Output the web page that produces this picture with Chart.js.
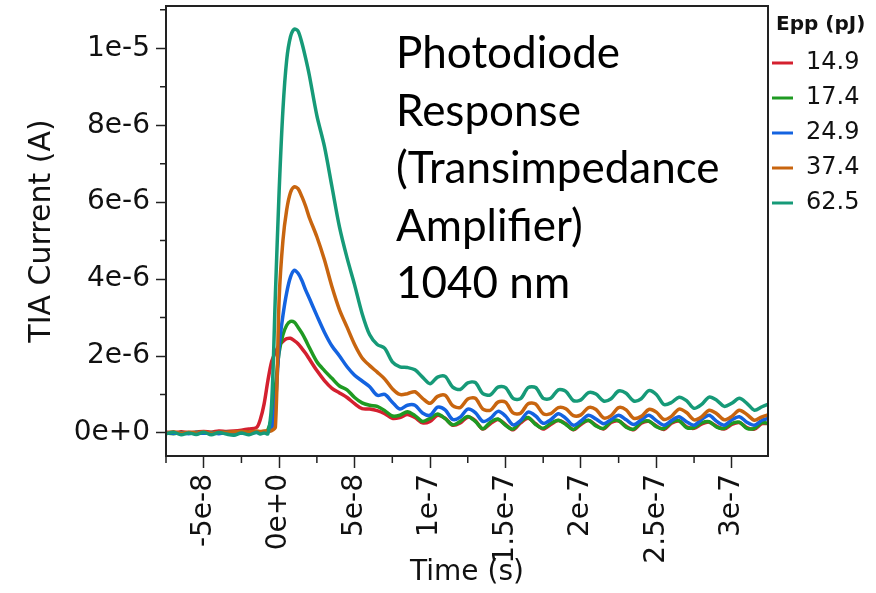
<!DOCTYPE html>
<html lang="en">
<head>
  <meta charset="UTF-8">
  <title>Photodiode Response</title>
  <style>
    html, body { margin: 0; padding: 0; background: #fff; }
    #wrap { width: 876px; height: 593px; }
  </style>
</head>
<body>
  <div id="wrap"><canvas id="graphic" width="876" height="593"></canvas></div>

  <script src="https://cdn.jsdelivr.net/npm/chart.js"></script>
  <script>
    // time in ns, TIA current in uA (labels below give the SI values)
    const timeNs = [
      -75, -70, -65, -60, -55, -50, -45, -40, -35, -30, -25, -20, -15,
      -12.5, -10, -7.5, -5, -2.5, 0, 2.5, 5, 7.5, 10, 12.5, 15, 17.5, 20,
      25, 30, 35, 40, 45, 50, 55, 60, 65, 70, 75, 80, 85, 90, 95, 100,
      105, 110, 115, 120, 125, 130, 135, 140, 145, 150, 155, 160, 165, 170, 175, 180,
      185, 190, 195, 200, 205, 210, 215, 220, 225, 230, 235, 240, 245, 250, 255, 260,
      265, 270, 275, 280, 285, 290, 295, 300, 305, 310, 315, 320, 325
    ];

    const epp14_9 = [
      0.02, 0.00, 0.03, 0.01, 0.02, 0.04, 0.02, 0.05, 0.04, 0.05, 0.07, 0.10, 0.14,
      0.35, 0.75, 1.35, 1.85, 2.10, 2.28, 2.38, 2.45, 2.46, 2.40, 2.32, 2.20, 2.07, 1.92,
      1.62, 1.36, 1.16, 1.04, 0.92, 0.76, 0.63, 0.62, 0.58, 0.50, 0.38, 0.40, 0.48, 0.40, 0.26, 0.30,
      0.46, 0.38, 0.20, 0.26, 0.41, 0.32, 0.10, 0.24, 0.35, 0.22, 0.08, 0.26, 0.38, 0.24, 0.10, 0.22,
      0.32, 0.24, 0.08, 0.22, 0.32, 0.20, 0.10, 0.27, 0.31, 0.17, 0.08, 0.25, 0.30, 0.18, 0.09, 0.25,
      0.31, 0.16, 0.12, 0.23, 0.28, 0.17, 0.10, 0.22, 0.27, 0.14, 0.10, 0.24, 0.24
    ];
    const epp17_4 = [
      0.00, -0.02, 0.01, -0.01, 0.02, -0.01, 0.01, 0.00, 0.02, 0.00, 0.01, 0.02, 0.02,
      0.02, 0.03, 0.08, 0.40, 1.20, 2.10, 2.55, 2.80, 2.90, 2.88, 2.75, 2.60, 2.42, 2.22,
      1.85, 1.62, 1.42, 1.22, 1.12, 0.92, 0.78, 0.72, 0.69, 0.58, 0.44, 0.46, 0.55, 0.45, 0.30, 0.38,
      0.49, 0.37, 0.21, 0.30, 0.43, 0.30, 0.11, 0.28, 0.36, 0.20, 0.10, 0.30, 0.40, 0.22, 0.12, 0.25,
      0.33, 0.22, 0.09, 0.25, 0.33, 0.18, 0.12, 0.30, 0.32, 0.15, 0.10, 0.28, 0.31, 0.16, 0.11, 0.28,
      0.32, 0.14, 0.14, 0.26, 0.29, 0.15, 0.12, 0.25, 0.28, 0.12, 0.12, 0.27, 0.24
    ];
    const epp24_9 = [
      0.01, -0.01, 0.00, -0.02, 0.01, -0.01, 0.00, -0.02, 0.01, 0.00, -0.01, 0.00, 0.01,
      0.00, 0.01, 0.02, 0.10, 0.75, 2.25, 3.05, 3.65, 4.05, 4.23, 4.15, 3.97, 3.72, 3.50,
      3.05, 2.62, 2.26, 2.00, 1.72, 1.50, 1.35, 1.20, 0.98, 1.00, 0.80, 0.62, 0.72, 0.72, 0.52, 0.46,
      0.67, 0.60, 0.35, 0.41, 0.62, 0.53, 0.30, 0.38, 0.56, 0.44, 0.21, 0.32, 0.54, 0.44, 0.25, 0.34,
      0.50, 0.38, 0.20, 0.31, 0.46, 0.36, 0.24, 0.35, 0.46, 0.34, 0.22, 0.34, 0.46, 0.32, 0.20, 0.32,
      0.42, 0.29, 0.20, 0.35, 0.46, 0.30, 0.20, 0.34, 0.42, 0.28, 0.20, 0.33, 0.38
    ];
    const epp37_4 = [
      0.00, 0.03, -0.01, 0.02, 0.00, 0.03, -0.01, 0.02, 0.01, 0.03, 0.04, 0.02, 0.05,
      0.04, 0.05, 0.05, 0.06, 0.15, 3.50, 5.00, 5.80, 6.25, 6.40, 6.35, 6.15, 5.90, 5.60,
      5.10, 4.50, 3.80, 3.20, 2.75, 2.30, 1.95, 1.75, 1.58, 1.40, 1.15, 1.00, 1.02, 1.07, 0.90, 0.77,
      0.95, 0.98, 0.71, 0.66, 0.88, 0.90, 0.62, 0.59, 0.80, 0.80, 0.52, 0.51, 0.76, 0.75, 0.50, 0.50,
      0.66, 0.63, 0.45, 0.47, 0.66, 0.61, 0.39, 0.45, 0.66, 0.60, 0.38, 0.43, 0.61, 0.54, 0.35, 0.43,
      0.62, 0.53, 0.34, 0.42, 0.59, 0.50, 0.34, 0.43, 0.59, 0.48, 0.33, 0.42, 0.48
    ];
    const epp62_5 = [
      -0.02, 0.02, -0.05, 0.00, -0.04, 0.02, -0.05, 0.01, -0.03, -0.06, 0.00, -0.05, 0.02,
      -0.03, 0.00, -0.02, 0.75, 3.60, 6.30, 8.40, 9.70, 10.30, 10.50, 10.45, 10.15, 9.75, 9.30,
      8.25, 7.45, 6.40, 5.35, 4.55, 3.85, 3.10, 2.55, 2.30, 2.20, 1.85, 1.72, 1.70, 1.64, 1.45, 1.28,
      1.45, 1.47, 1.19, 1.13, 1.30, 1.31, 1.02, 0.99, 1.19, 1.18, 0.90, 0.89, 1.18, 1.18, 0.90, 0.90,
      1.12, 1.08, 0.84, 0.86, 1.05, 1.01, 0.83, 0.89, 1.09, 1.03, 0.83, 0.89, 1.10, 1.00, 0.74, 0.79,
      0.93, 0.84, 0.64, 0.74, 0.93, 0.85, 0.69, 0.77, 0.90, 0.77, 0.59, 0.68, 0.76
    ];

    const seriesLabels = ['14.9', '17.4', '24.9', '37.4', '62.5'];
    const seriesColors = ['#d4202f', '#1f9a22', '#1463e0', '#c8650f', '#169a78'];
    const legendTitle = 'Epp (pJ)';

    const xTickValues = [-50, 0, 50, 100, 150, 200, 250, 300];
    const xTickLabels = ['-5e-8', '0e+0', '5e-8', '1e-7', '1.5e-7', '2e-7', '2.5e-7', '3e-7'];
    const xMinorTicks = [-75, -25, 25, 75, 125, 175, 225, 275];
    const yTickValues = [0, 2, 4, 6, 8, 10];
    const yTickLabels = ['0e+0', '2e-6', '4e-6', '6e-6', '8e-6', '1e-5'];
    const yMinorTicks = [1, 3, 5, 7, 9, 11];

    const noteLines = ['Photodiode', 'Response', '(Transimpedance', 'Amplifier)', '1040 nm'];

    const series = [epp14_9, epp17_4, epp24_9, epp37_4, epp62_5];

    // frame, minor ticks, note text and legend
    const extras = {
      id: 'extras',
      afterDraw(chart) {
        const { ctx, chartArea: a, scales: { x, y } } = chart;
        ctx.save();
        ctx.strokeStyle = '#222';
        ctx.lineWidth = 2;
        ctx.strokeRect(a.left, a.top, a.right - a.left, a.bottom - a.top);

        ctx.lineWidth = 1.5;
        ctx.beginPath();
        xMinorTicks.forEach(v => {
          const px = x.getPixelForValue(v);
          if (px < a.left - 2 || px > a.right + 2) return;
          ctx.moveTo(px, a.bottom);
          ctx.lineTo(px, a.bottom + 7);
        });
        yMinorTicks.forEach(v => {
          const py = y.getPixelForValue(v);
          if (py < a.top - 2 || py > a.bottom + 2) return;
          ctx.moveTo(a.left, py);
          ctx.lineTo(a.left - 6, py);
        });
        ctx.stroke();

        ctx.fillStyle = '#000';
        ctx.textAlign = 'left';
        ctx.textBaseline = 'alphabetic';
        ctx.font = '44px Lato';
        noteLines.forEach((t, i) => ctx.fillText(t, 396, 68 + i * 57.5));

        ctx.fillStyle = '#111';
        ctx.textBaseline = 'middle';
        ctx.font = 'bold 20px "DejaVu Sans"';
        ctx.fillText(legendTitle, 776, 25);
        chart.data.datasets.forEach((ds, i) => {
          const yy = 63 + i * 35;
          ctx.strokeStyle = ds.borderColor;
          ctx.lineWidth = 3;
          ctx.beginPath();
          ctx.moveTo(772, yy);
          ctx.lineTo(793, yy);
          ctx.stroke();
          ctx.font = '24px "DejaVu Sans"';
          ctx.fillText(ds.label, 806, yy);
        });
        ctx.restore();
      }
    };

    const tickFont = { family: 'DejaVu Sans', size: 28 };

    new Chart(document.getElementById('graphic'), {
      type: 'line',
      data: {
        datasets: series.map((vals, i) => ({
          label: seriesLabels[i],
          data: vals.map((v, j) => ({ x: timeNs[j], y: v })),
          borderColor: seriesColors[i],
          backgroundColor: seriesColors[i],
          borderWidth: 3.5,
          pointRadius: 0,
          tension: 0.3,
          order: series.length - 1 - i
        }))
      },
      options: {
        responsive: false,
        animation: false,
        layout: { padding: { left: 0, right: 108, top: 6, bottom: 0 } },
        plugins: {
          legend: { display: false },
          tooltip: { enabled: false }
        },
        scales: {
          x: {
            type: 'linear',
            min: -75,
            max: 324,
            afterBuildTicks: s => { s.ticks = xTickValues.map(v => ({ value: v })); },
            afterFit: s => { s.height = 137; s.paddingLeft = 0; s.paddingRight = 0; },
            ticks: {
              autoSkip: false,
              minRotation: 90,
              maxRotation: 90,
              padding: 6,
              color: '#111',
              font: tickFont,
              callback: v => xTickLabels[xTickValues.indexOf(v)]
            },
            grid: { drawOnChartArea: false, drawTicks: true, tickLength: 12, tickWidth: 1.5, tickColor: '#222' },
            border: { display: false },
            title: {
              display: true,
              text: 'Time (s)',
              color: '#111',
              font: { family: 'DejaVu Sans', size: 28 },
              padding: { top: 0, bottom: 3 }
            }
          },
          y: {
            min: -0.6,
            max: 11.1,
            afterBuildTicks: s => { s.ticks = yTickValues.map(v => ({ value: v })); },
            afterFit: s => { s.width = 166; s.paddingTop = 0; s.paddingBottom = 0; },
            ticks: {
              padding: 6,
              color: '#111',
              font: tickFont,
              callback: v => yTickLabels[yTickValues.indexOf(v)]
            },
            grid: { drawOnChartArea: false, drawTicks: true, tickLength: 10, tickWidth: 1.5, tickColor: '#222' },
            border: { display: false },
            title: {
              display: true,
              text: 'TIA Current (A)',
              color: '#111',
              font: { family: 'DejaVu Sans', size: 30 },
              padding: { top: 24, bottom: 0 }
            }
          }
        }
      },
      plugins: [extras]
    });
  </script>
</body>
</html>
